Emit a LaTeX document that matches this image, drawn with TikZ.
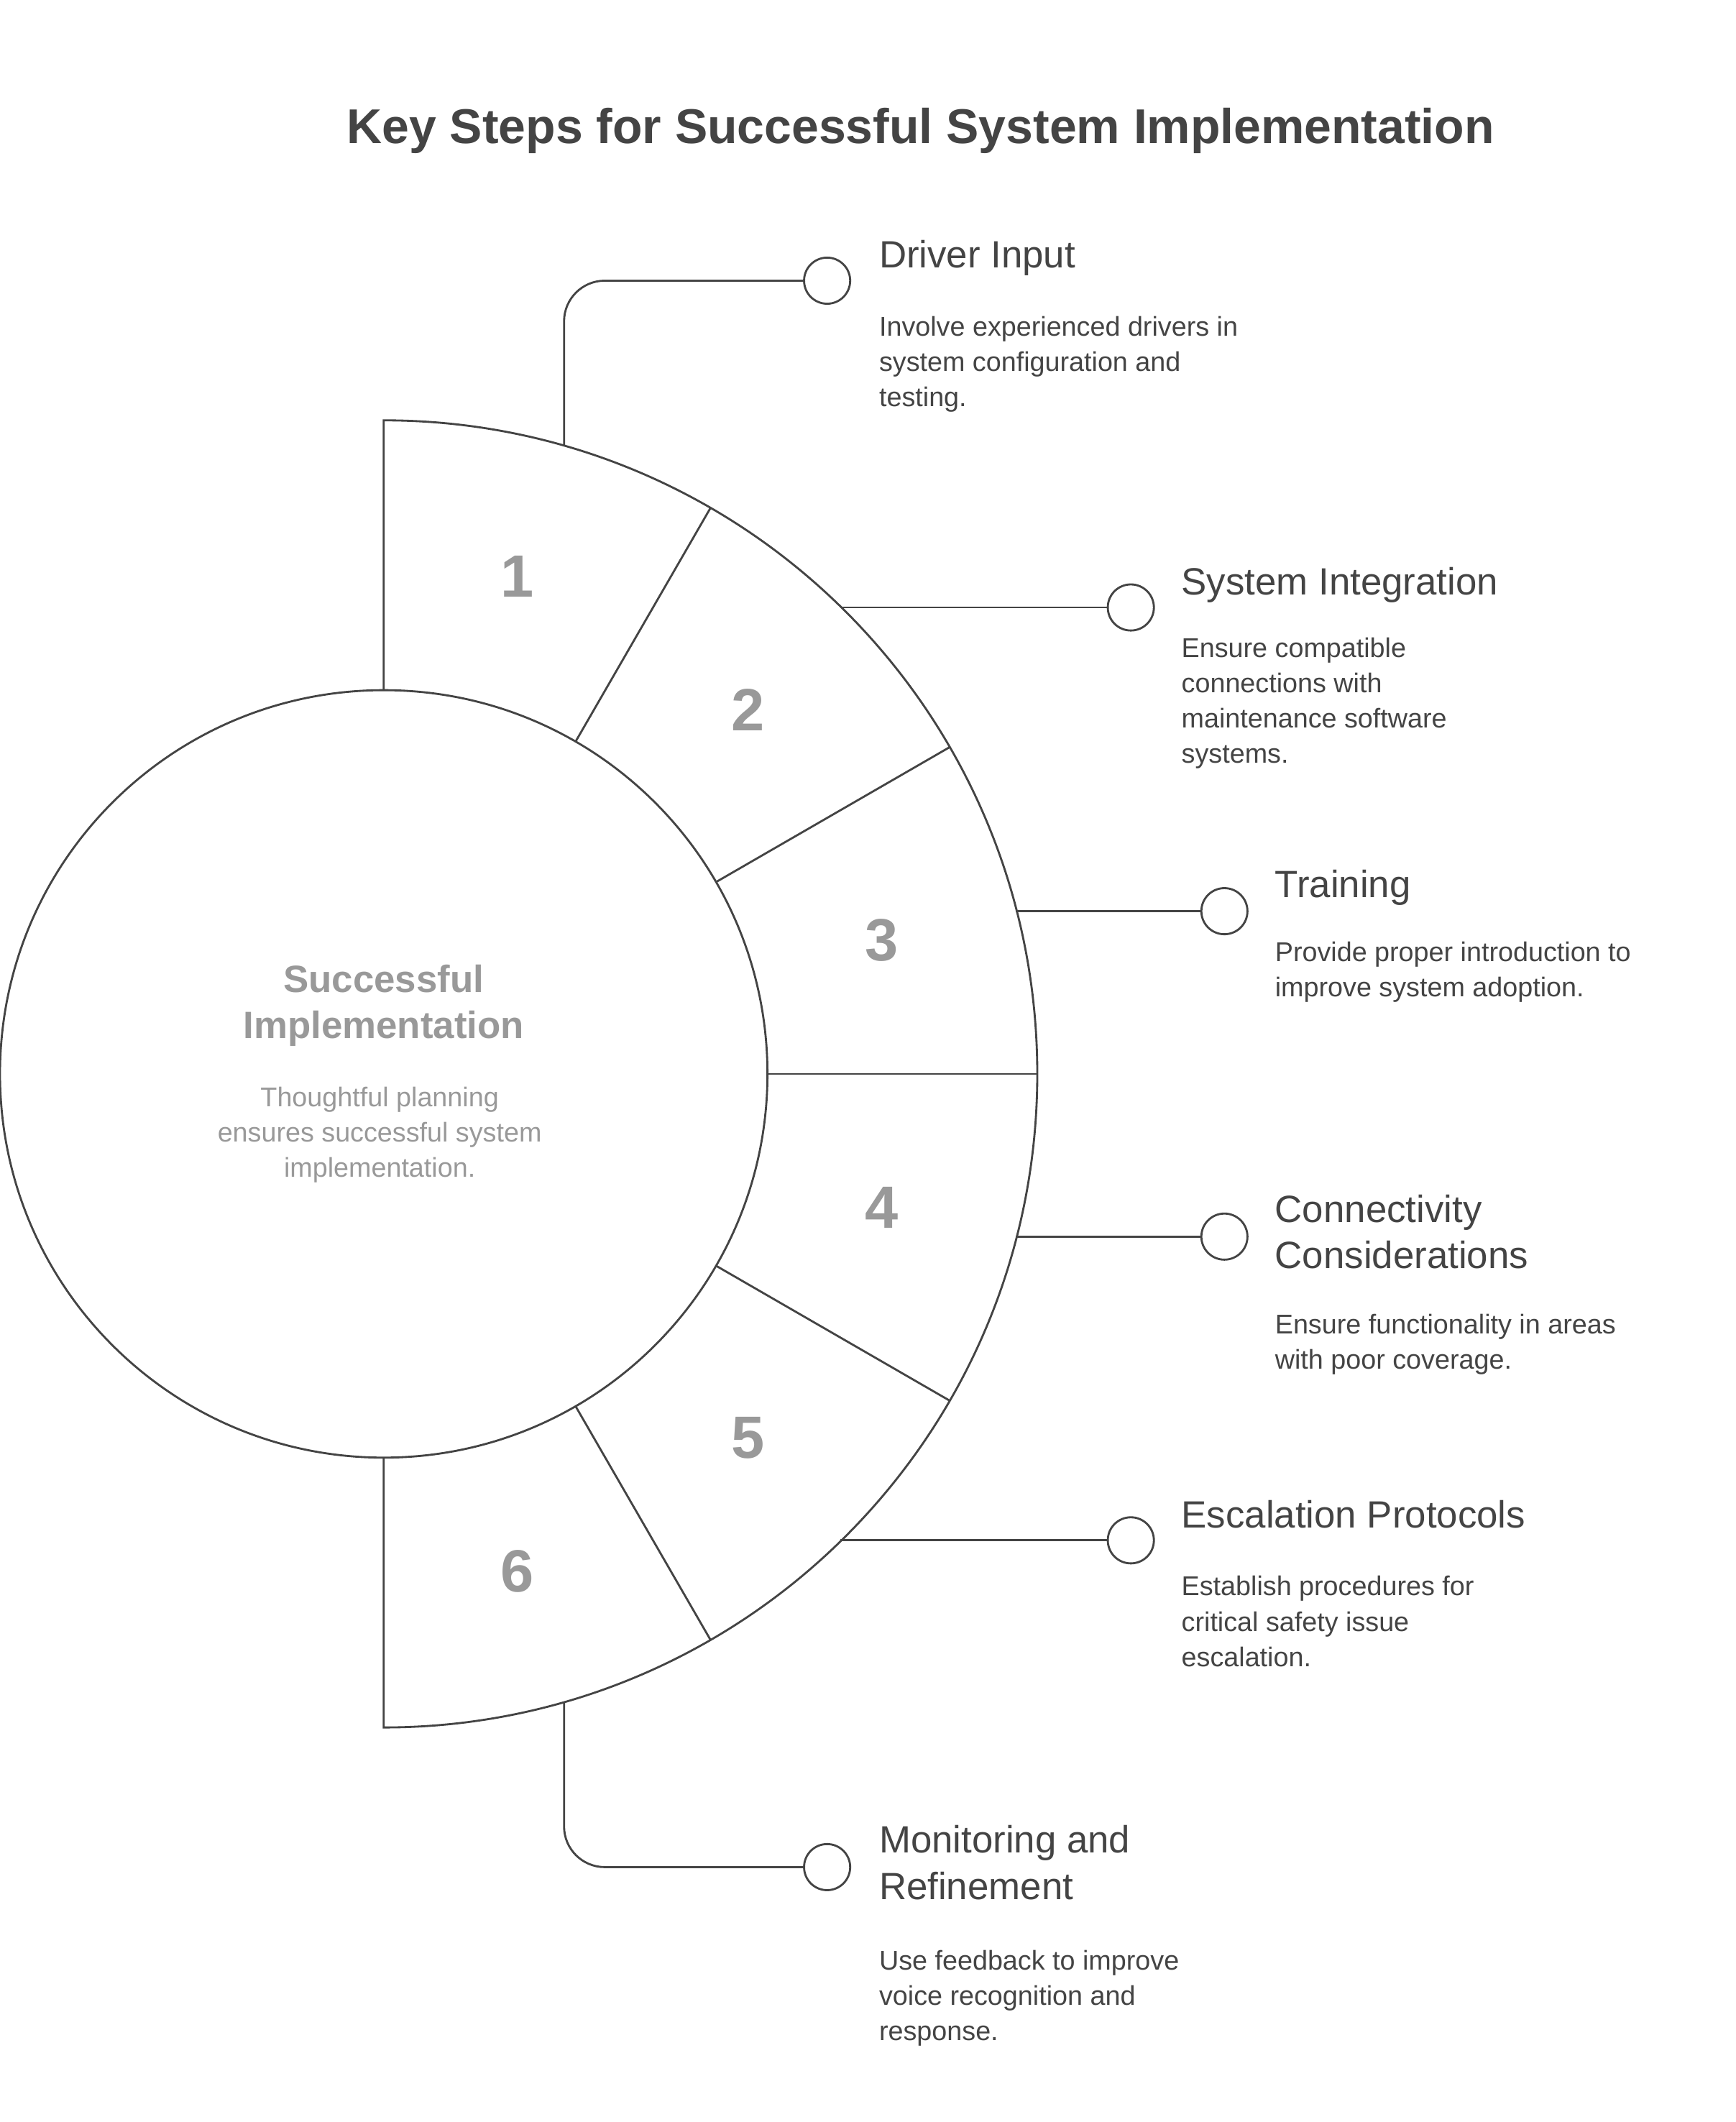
\documentclass[tikz,border=0pt]{standalone}
\usepackage{fontspec}
\setmainfont{Liberation Sans}
\usetikzlibrary{calc}
\definecolor{ink}{HTML}{444444}
\definecolor{soft}{HTML}{999999}
\begin{document}
\begin{tikzpicture}[x=0.5pt,y=-0.5pt,
  ln/.style={draw=ink,line width=0.75pt},
  dot/.style={circle,draw=ink,line width=0.75pt,fill=white,minimum size=17pt,inner sep=0},
  num/.style={font=\fontsize{22}{26}\selectfont\bfseries,text=soft},
  ttl/.style={anchor=north west,inner sep=0,align=left,text=ink,font=\fontsize{14}{17}\selectfont},
  dsc/.style={anchor=north west,inner sep=0,align=left,text=ink,font=\fontsize{10}{13}\selectfont}]
\useasboundingbox (0,0) rectangle (1280,1565);
\fill[white] (0,0) rectangle (1280,1565);
\coordinate (c) at (283,792);
\node[font=\fontsize{18}{22}\selectfont\bfseries,text=ink,anchor=base] (title) at (679,106) {Key Steps for Successful System Implementation};
% ring
\draw[ln] (283,510) -- (283,310) arc[start angle=-90,end angle=90,radius=482] -- (283,1075);
\foreach \a in {-60,-30,0,30,60}{\draw[ln] ($(c)+(\a:283)$) -- ($(c)+(\a:482)$);}
\node[circle,draw=ink,line width=0.75pt,fill=white,minimum size=283pt,inner sep=0] (hub) at (c) {};
\foreach \n/\a in {1/-75,2/-45,3/-15,4/15,5/45,6/75}{\node[num] (n\n) at ($(c)+(\a:380)$) {\n};}
\node[anchor=north,inner sep=0,align=center,text=soft,font=\fontsize{14}{17}\selectfont\bfseries] (ht) at (283,711) {Successful\\Implementation};
\node[anchor=north,inner sep=0,align=center,text=soft,font=\fontsize{10}{13}\selectfont] (hd) at (280,801) {Thoughtful planning\\ensures successful system\\implementation.};
% connectors
\node[dot] (d1) at (610,207) {};
\node[dot] (d2) at (834,448) {};
\node[dot] (d3) at (903,672) {};
\node[dot] (d4) at (903,912) {};
\node[dot] (d5) at (834,1136) {};
\node[dot] (d6) at (610,1377) {};
\coordinate (s1) at (416,329); \coordinate (s2) at (620,448); \coordinate (s3) at (749,672);
\coordinate (s4) at (749,912); \coordinate (s5) at (620,1136); \coordinate (s6) at (416,1256);
\draw[ln,rounded corners=15pt] (s1) |- (d1.west);
\draw[ln] (s2) -- (d2.west);
\draw[ln] (s3) -- (d3.west);
\draw[ln] (s4) -- (d4.west);
\draw[ln] (s5) -- (d5.west);
\draw[ln,rounded corners=15pt] (s6) |- (d6.west);
% texts
\node[ttl] (t1) at (648,177) {Driver Input};
\node[dsc] (e1) at (648,233) {Involve experienced drivers in\\system configuration and\\testing.};
\node[ttl] (t2) at (871,418) {System Integration};
\node[dsc] (e2) at (871,470) {Ensure compatible\\connections with\\maintenance software\\systems.};
\node[ttl] (t3) at (940,641) {Training};
\node[dsc] (e3) at (940,694) {Provide proper introduction to\\improve system adoption.};
\node[ttl] (t4) at (940,881) {Connectivity\\Considerations};
\node[dsc] (e4) at (940,969) {Ensure functionality in areas\\with poor coverage.};
\node[ttl] (t5) at (871,1106) {Escalation Protocols};
\node[dsc] (e5) at (871,1162) {Establish procedures for\\critical safety issue\\escalation.};
\node[ttl] (t6) at (648,1346) {Monitoring and\\Refinement};
\node[dsc] (e6) at (648,1438) {Use feedback to improve\\voice recognition and\\response.};
\end{tikzpicture}
\end{document}
